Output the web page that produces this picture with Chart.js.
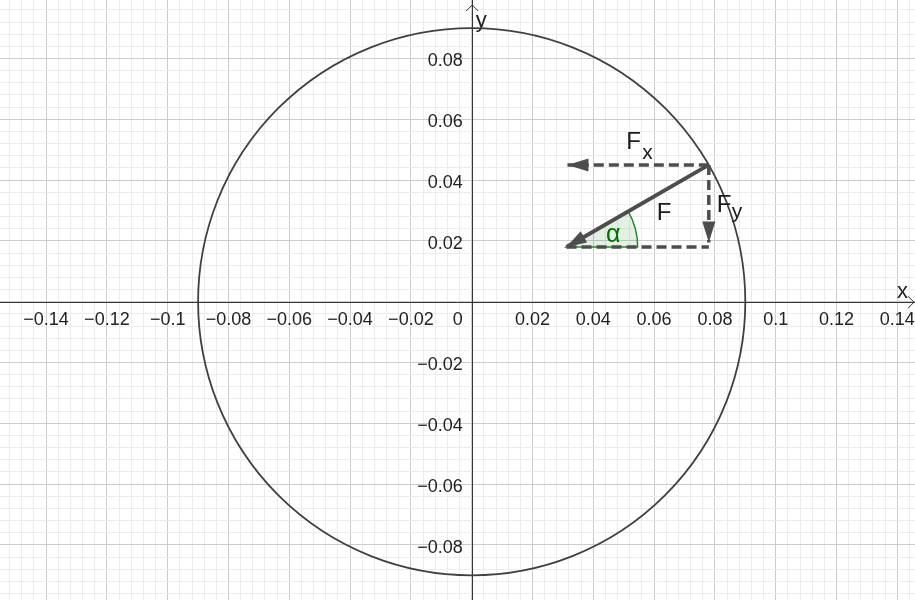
<!DOCTYPE html>
<html>
<head>
<meta charset="utf-8">
<script src="https://cdn.jsdelivr.net/npm/chart.js@4.4.1/dist/chart.umd.min.js"></script>
<style>
html, body { margin: 0; padding: 0; background: #fff; }
canvas { display: block; }
</style>
</head>
<body>
<canvas id="chart" width="915" height="600"></canvas>
<script>
// 表示範囲とグリッド
const xRange = [-0.15516, 0.14582];
const yRange = [-0.09813, 0.09924];
const gridStep = 0.004;
const majorEvery = 5;

// 目盛りラベル
const xTicks = [-0.14, -0.12, -0.1, -0.08, -0.06, -0.04, -0.02, 0.02, 0.04, 0.06, 0.08, 0.1, 0.12, 0.14];
const xTickLabels = ['−0.14', '−0.12', '−0.1', '−0.08', '−0.06', '−0.04', '−0.02', '0.02', '0.04', '0.06', '0.08', '0.1', '0.12', '0.14'];
const yTicks = [0.08, 0.06, 0.04, 0.02, -0.02, -0.04, -0.06, -0.08];
const yTickLabels = ['0.08', '0.06', '0.04', '0.02', '−0.02', '−0.04', '−0.06', '−0.08'];

// 円
const circleCenter = [0, 0];
const circleRadius = 0.09;

// ベクトル F と成分
const forceX = [0.078, 0.0312];
const forceY = [0.045, 0.018];
const fxX = [0.078, 0.0315];
const fxY = [0.045, 0.045];
const fyX = [0.078, 0.078];
const fyY = [0.045, 0.0195];
const baseX = [0.0312, 0.078];
const baseY = [0.018, 0.018];
const angleRadius = 0.0234;

const LINE = '#4d4d4d';
const FONT = '"Liberation Sans", Arial, sans-serif';

function pts(xs, ys) {
    return xs.map((v, i) => ({ x: v, y: ys[i] }));
}

function seg(xs, ys, width, dash) {
    return {
        data: pts(xs, ys),
        showLine: true,
        borderColor: LINE,
        borderWidth: width,
        borderDash: dash,
        pointRadius: 0,
        tension: 0
    };
}

function gridColor(v) {
    const k = Math.round(v / gridStep);
    if (Math.abs(v - k * gridStep) > 1e-9) return 'rgba(0,0,0,0)';
    return (k % majorEvery === 0) ? '#cccccc' : '#ececec';
}

// 矢じり
function head(ctx, from, to, len, half) {
    const dx = to[0] - from[0], dy = to[1] - from[1];
    const d = Math.hypot(dx, dy);
    const ux = dx / d, uy = dy / d;
    const bx = to[0] - ux * len, by = to[1] - uy * len;
    ctx.beginPath();
    ctx.moveTo(to[0], to[1]);
    ctx.lineTo(bx - uy * half, by + ux * half);
    ctx.lineTo(bx + uy * half, by - ux * half);
    ctx.closePath();
    ctx.fill();
}

const geoPlugin = {
    id: 'geo',
    beforeDatasetsDraw(chart) {
        const { ctx, scales: { x, y } } = chart;
        const px = v => x.getPixelForValue(v);
        const py = v => y.getPixelForValue(v);
        const ox = px(0), oy = py(0);
        const W = chart.width, H = chart.height;
        ctx.save();

        // 軸
        ctx.strokeStyle = '#333';
        ctx.lineWidth = 1;
        ctx.beginPath();
        ctx.moveTo(0, Math.round(oy) + 0.5);
        ctx.lineTo(W, Math.round(oy) + 0.5);
        ctx.moveTo(Math.round(ox) + 0.5, H);
        ctx.lineTo(Math.round(ox) + 0.5, 0);
        ctx.stroke();
        ctx.beginPath();
        ctx.moveTo(W - 7, oy - 5.5);
        ctx.lineTo(W - 1, oy + 0.5);
        ctx.lineTo(W - 7, oy + 6.5);
        ctx.moveTo(ox - 5.5, 11);
        ctx.lineTo(ox + 0.5, 5);
        ctx.lineTo(ox + 6.5, 11);
        ctx.stroke();

        // 目盛りラベル
        ctx.fillStyle = '#222';
        ctx.font = '18px ' + FONT;
        ctx.textBaseline = 'alphabetic';
        ctx.textAlign = 'center';
        xTicks.forEach((v, i) => ctx.fillText(xTickLabels[i], px(v), oy + 23.5));
        ctx.textAlign = 'right';
        ctx.fillText('0', ox - 9, oy + 23.5);
        yTicks.forEach((v, i) => ctx.fillText(yTickLabels[i], ox - 9, py(v) + 8));

        // 軸の名前
        ctx.font = '22px ' + FONT;
        ctx.textAlign = 'left';
        ctx.fillText('x', W - 18, oy - 4);
        ctx.fillText('y', ox + 4, 27);

        // 円
        ctx.strokeStyle = '#404040';
        ctx.lineWidth = 1.8;
        ctx.beginPath();
        ctx.ellipse(px(circleCenter[0]), py(circleCenter[1]),
            px(circleRadius) - px(0), py(0) - py(circleRadius), 0, 0, Math.PI * 2);
        ctx.stroke();

        // 角 α
        const qx = px(forceX[1]), qy = py(forceY[1]);
        const a = Math.atan2(py(forceY[0]) - qy, px(forceX[0]) - qx);
        const r = px(angleRadius) - px(0);
        ctx.beginPath();
        ctx.moveTo(qx, qy);
        ctx.arc(qx, qy, r, a, 0);
        ctx.closePath();
        ctx.fillStyle = 'rgba(0,110,0,0.1)';
        ctx.fill();
        ctx.strokeStyle = '#1f8a1f';
        ctx.lineWidth = 1.5;
        ctx.stroke();
        ctx.fillStyle = '#007000';
        ctx.font = '25px ' + FONT;
        ctx.textAlign = 'center';
        ctx.fillText('α', qx + Math.cos(a / 2) * r * 0.68, qy + Math.sin(a / 2) * r * 0.68 + 8);

        ctx.restore();
    },
    afterDatasetsDraw(chart) {
        const { ctx, scales: { x, y } } = chart;
        const p = (xs, ys, i) => [x.getPixelForValue(xs[i]), y.getPixelForValue(ys[i])];
        ctx.save();
        ctx.fillStyle = LINE;
        head(ctx, p(forceX, forceY, 0), p(forceX, forceY, 1), 20, 6.5);
        head(ctx, p(fxX, fxY, 0), p(fxX, fxY, 1), 21, 6.5);
        head(ctx, p(fyX, fyY, 0), p(fyX, fyY, 1), 21, 6.5);

        // ラベル
        const mid = (xs, ys) => {
            const a = p(xs, ys, 0), b = p(xs, ys, 1);
            return [(a[0] + b[0]) / 2, (a[1] + b[1]) / 2];
        };
        ctx.fillStyle = '#1a1a1a';
        ctx.textAlign = 'left';
        ctx.textBaseline = 'alphabetic';
        const mF = mid(forceX, forceY);
        ctx.font = '24px ' + FONT;
        ctx.fillText('F', mF[0] + 19, mF[1] + 14);
        const mFx = mid(fxX, fxY);
        ctx.fillText('F', mFx[0] - 12, mFx[1] - 16);
        const mFy = mid(fyX, fyY);
        ctx.fillText('F', mFy[0] + 8, mFy[1] + 8);
        ctx.font = '21px ' + FONT;
        ctx.fillText('x', mFx[0] + 4, mFx[1] - 6);
        ctx.fillText('y', mFy[0] + 23, mFy[1] + 14);
        ctx.restore();
    }
};

const axisOpts = (range) => ({
    type: 'linear',
    min: range[0],
    max: range[1],
    border: { display: false },
    ticks: { display: false, stepSize: gridStep, includeBounds: false },
    grid: { drawTicks: false, lineWidth: 1, color: c => gridColor(c.tick.value) }
});

new Chart(document.getElementById('chart'), {
    type: 'scatter',
    data: {
        datasets: [
            seg(baseX, baseY, 3.5, [10, 5]),
            seg(fxX, fxY, 3.5, [10, 5]),
            seg(fyX, fyY, 3.5, [10, 5]),
            seg(forceX, forceY, 4, [])
        ]
    },
    options: {
        responsive: false,
        animation: false,
        events: [],
        layout: { padding: 0 },
        plugins: { legend: { display: false }, tooltip: { enabled: false } },
        scales: { x: axisOpts(xRange), y: axisOpts(yRange) }
    },
    plugins: [geoPlugin]
});
</script>
</body>
</html>
